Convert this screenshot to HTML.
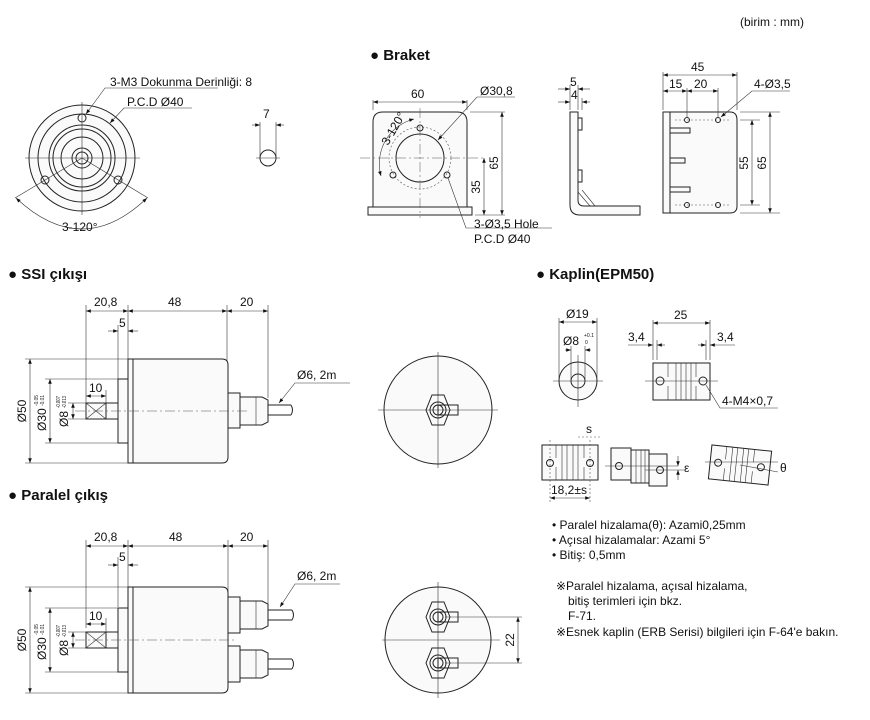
<!DOCTYPE html>
<html><head><meta charset="utf-8"><style>
html,body{margin:0;padding:0;background:#fff;width:870px;height:720px;overflow:hidden}
svg{display:block;font-family:"Liberation Sans",Arial,sans-serif}
.l{fill:none;stroke:#222;stroke-width:1}
.t{stroke:#333;stroke-width:.6;fill:none}
.c{stroke:#555;stroke-width:.5;fill:none;stroke-dasharray:10 3 2 3}
.d{stroke:#555;stroke-width:.6;fill:none;stroke-dasharray:2 2}
.b{fill:#fafafa;stroke:#222;stroke-width:1}
text{fill:#111;font-size:12px}
.h{font-size:15px;font-weight:bold}
.s{font-size:5px}
</style></head><body>
<svg width="870" height="720" viewBox="0 0 870 720">
<defs>
<marker id="a" viewBox="0 0 8 6" refX="8" refY="3" markerWidth="8" markerHeight="6" orient="auto-start-reverse"><path d="M0,0L8,3L0,6z" fill="#111"/></marker>
</defs>
<text x="740" y="26" font-size="12">(birim : mm)</text>
<text x="370" y="60" class="h">● Braket</text>
<text x="8" y="279" class="h">● SSI çıkışı</text>
<text x="8" y="500" class="h">● Paralel çıkış</text>
<text x="536" y="279" class="h">● Kaplin(EPM50)</text>

<!-- Top-left front view -->
<g>
<circle cx="82" cy="158" r="53" class="b"/>
<circle cx="82" cy="158" r="44" class="l"/>
<circle cx="82" cy="158" r="33" class="l"/>
<circle cx="82" cy="158" r="29" class="l"/>
<circle cx="82" cy="158" r="21" class="l"/>
<circle cx="82" cy="158" r="10" class="l"/>
<circle cx="82" cy="158" r="6" class="l"/>
<circle cx="82" cy="118" r="4" class="l" stroke-width="2"/>
<circle cx="45" cy="180" r="4" class="l" stroke-width="2"/>
<circle cx="118" cy="180" r="4" class="l" stroke-width="2"/>
<line x1="25" y1="158" x2="140" y2="158" class="t"/>
<line x1="82" y1="102" x2="82" y2="215" class="t"/>
<line x1="82" y1="158" x2="15" y2="198" class="t"/>
<line x1="82" y1="158" x2="148" y2="198" class="t"/>
<path d="M16,198 Q82,260 147,198" class="t" marker-start="url(#a)" marker-end="url(#a)"/>
<text x="62" y="231">3-120°</text>
<polyline points="218,88 105,88 86,114" class="t" marker-end="url(#a)"/>
<text x="110" y="86">3-M3 Dokunma Derinliği: 8</text>
<polyline points="192,108 124,108 110,123" class="t" marker-end="url(#a)"/>
<text x="127" y="106">P.C.D Ø40</text>
<circle cx="268" cy="158" r="8" class="l" stroke-width="1.3"/>
<line x1="256" y1="158" x2="280" y2="158" class="t"/>
<line x1="260" y1="122" x2="260" y2="158" class="t"/>
<line x1="276" y1="122" x2="276" y2="158" class="t"/>
<line x1="252" y1="125" x2="260" y2="125" class="t" marker-end="url(#a)"/>
<line x1="284" y1="125" x2="276" y2="125" class="t" marker-end="url(#a)"/>
<text x="263" y="118">7</text>
</g>

<!-- Braket front -->
<g>
<path d="M373,207 V122 Q373,112 383,112 H457 Q467,112 467,122 V207" class="b"/>
<rect x="368" y="207" width="104" height="8" class="b"/>
<circle cx="420" cy="158" r="31" class="d"/>
<circle cx="420" cy="158" r="24" class="l"/>
<circle cx="420" cy="128" r="3" class="l"/>
<circle cx="393" cy="175" r="3" class="l"/>
<circle cx="447" cy="175" r="3" class="l"/>
<line x1="360" y1="158" x2="485" y2="158" class="c"/>
<line x1="420" y1="108" x2="420" y2="218" class="c"/>
<path d="M414,119 A46,46 0 0 0 381,176" class="t" marker-start="url(#a)" marker-end="url(#a)"/>
<text x="0" y="0" font-size="11" transform="translate(388,146) rotate(-60)">3-120°</text>
<line x1="373" y1="100" x2="373" y2="110" class="t"/>
<line x1="467" y1="100" x2="467" y2="110" class="t"/>
<line x1="373" y1="102" x2="467" y2="102" class="t" marker-start="url(#a)" marker-end="url(#a)"/>
<text x="411" y="98">60</text>
<polyline points="515,97 477,97 438,140" class="t" marker-end="url(#a)"/>
<text x="480" y="95">Ø30,8</text>
<line x1="470" y1="112" x2="505" y2="112" class="t"/>
<line x1="475" y1="215" x2="505" y2="215" class="t"/>
<line x1="502" y1="112" x2="502" y2="215" class="t" marker-start="url(#a)" marker-end="url(#a)"/>
<line x1="484" y1="158" x2="484" y2="215" class="t" marker-start="url(#a)" marker-end="url(#a)"/>
<text text-anchor="middle" transform="translate(498,163) rotate(-90)">65</text>
<text text-anchor="middle" transform="translate(480,187) rotate(-90)">35</text>
<polyline points="448,178 466,228 552,228" class="t"/>
<text x="474" y="228">3-Ø3,5 Hole</text>
<text x="474" y="243">P.C.D Ø40</text>
</g>
<!-- Braket side -->
<g>
<path d="M570,112 H578 V200 Q578,206 584,206 H640 V215 H580 Q570,215 570,205 Z" class="b"/>
<rect x="578" y="118" width="4" height="12" class="l"/>
<rect x="578" y="170" width="4" height="12" class="l"/>
<line x1="578" y1="192" x2="590" y2="206" class="t"/>
<line x1="582" y1="190" x2="595" y2="206" class="t"/>
<line x1="570" y1="85" x2="570" y2="110" class="t"/>
<line x1="578" y1="85" x2="578" y2="110" class="t"/>
<line x1="582" y1="98" x2="582" y2="110" class="t"/>
<line x1="558" y1="89" x2="570" y2="89" class="t" marker-end="url(#a)"/>
<line x1="590" y1="89" x2="578" y2="89" class="t" marker-end="url(#a)"/>
<line x1="558" y1="102" x2="570" y2="102" class="t" marker-end="url(#a)"/>
<line x1="590" y1="102" x2="582" y2="102" class="t" marker-end="url(#a)"/>
<text x="570" y="86">5</text>
<text x="571" y="99">4</text>
</g>
<!-- Braket right -->
<g>
<path d="M663,112 H730 Q737,112 737,120 V206 Q737,213 730,213 H663 Z" class="b"/>
<line x1="670" y1="112" x2="670" y2="213" class="l"/>
<rect x="670" y="128" width="20" height="5" class="l"/><rect x="670" y="158" width="15" height="5" class="l"/><rect x="670" y="187" width="20" height="5" class="l"/>
<line x1="675" y1="120" x2="730" y2="120" class="d"/>
<line x1="675" y1="205" x2="730" y2="205" class="d"/>
<circle cx="687" cy="120" r="2.5" class="l"/><circle cx="718" cy="120" r="2.5" class="l"/>
<circle cx="687" cy="205" r="2.5" class="l"/><circle cx="718" cy="205" r="2.5" class="l"/>
<line x1="663" y1="72" x2="663" y2="110" class="t"/>
<line x1="737" y1="72" x2="737" y2="110" class="t"/>
<line x1="687" y1="88" x2="687" y2="118" class="t"/>
<line x1="718" y1="88" x2="718" y2="118" class="t"/>
<line x1="663" y1="75" x2="737" y2="75" class="t" marker-start="url(#a)" marker-end="url(#a)"/>
<text x="691" y="71">45</text>
<line x1="663" y1="91" x2="687" y2="91" class="t" marker-start="url(#a)" marker-end="url(#a)"/>
<line x1="687" y1="91" x2="718" y2="91" class="t" marker-start="url(#a)" marker-end="url(#a)"/>
<text x="669" y="88">15</text><text x="694" y="88">20</text>
<polyline points="790,91 752,91 721,117" class="t" marker-end="url(#a)"/>
<text x="754" y="88">4-Ø3,5</text>
<line x1="740" y1="120" x2="760" y2="120" class="t"/>
<line x1="740" y1="205" x2="760" y2="205" class="t"/>
<line x1="740" y1="112" x2="780" y2="112" class="t"/>
<line x1="740" y1="213" x2="780" y2="213" class="t"/>
<line x1="752" y1="120" x2="752" y2="205" class="t" marker-start="url(#a)" marker-end="url(#a)"/>
<line x1="770" y1="112" x2="770" y2="213" class="t" marker-start="url(#a)" marker-end="url(#a)"/>
<text text-anchor="middle" transform="translate(748,163) rotate(-90)">55</text>
<text text-anchor="middle" transform="translate(766,163) rotate(-90)">65</text>
</g>

<!-- SSI side -->
<g>
<line x1="86" y1="305" x2="86" y2="403" class="t"/>
<line x1="118" y1="325" x2="118" y2="379" class="t"/>
<line x1="128" y1="305" x2="128" y2="359" class="t"/>
<line x1="227" y1="305" x2="227" y2="365" class="t"/>
<line x1="268" y1="305" x2="268" y2="398" class="t"/>
<line x1="86" y1="311" x2="128" y2="311" class="t" marker-start="url(#a)" marker-end="url(#a)"/>
<line x1="128" y1="311" x2="227" y2="311" class="t" marker-start="url(#a)" marker-end="url(#a)"/>
<line x1="227" y1="311" x2="268" y2="311" class="t" marker-start="url(#a)" marker-end="url(#a)"/>
<text x="94" y="306">20,8</text><text x="168" y="306">48</text><text x="240" y="306">20</text>
<line x1="108" y1="331" x2="118" y2="331" class="t" marker-end="url(#a)"/>
<line x1="138" y1="331" x2="128" y2="331" class="t" marker-end="url(#a)"/>
<text x="119" y="327">5</text>
<path d="M128,359 H222 Q228,359 228,365 V457 Q228,463 222,463 H128 Z" class="b"/>
<line x1="133" y1="359" x2="133" y2="463" class="l"/>
<rect x="118" y="379" width="10" height="64" class="b"/>
<rect x="86" y="403" width="32" height="16" class="b"/>
<rect x="86" y="403" width="20" height="16" class="l"/>
<path d="M86,403 L106,419 M106,403 L86,419" class="t"/>
<rect x="228" y="393" width="12" height="35" class="b"/>
<path d="M240,397 H262 L268,400 V422 L262,425 H240 Z" class="b"/>
<line x1="256" y1="397" x2="256" y2="425" class="t"/>
<path d="M268,405 H291 M268,415 H291 M291,405 Q294,410 291,415" class="l"/>
<line x1="75" y1="411" x2="250" y2="411" class="c"/>
<line x1="25" y1="359" x2="128" y2="359" class="t"/>
<line x1="25" y1="463" x2="128" y2="463" class="t"/>
<line x1="45" y1="379" x2="118" y2="379" class="t"/>
<line x1="45" y1="443" x2="118" y2="443" class="t"/>
<line x1="68" y1="403" x2="86" y2="403" class="t"/>
<line x1="68" y1="419" x2="86" y2="419" class="t"/>
<line x1="30" y1="359" x2="30" y2="463" class="t" marker-start="url(#a)" marker-end="url(#a)"/>
<line x1="50" y1="379" x2="50" y2="443" class="t" marker-start="url(#a)" marker-end="url(#a)"/>
<line x1="73" y1="403" x2="73" y2="419" class="t" marker-start="url(#a)" marker-end="url(#a)"/>
<g transform="translate(26,411) rotate(-90)"><text text-anchor="middle" font-size="13">Ø50</text></g>
<g transform="translate(46,411) rotate(-90)"><text x="-20" font-size="13">Ø30</text><text x="5" y="-8" class="s" textLength="11" lengthAdjust="spacingAndGlyphs">-0.05</text><text x="5" y="-2" class="s" textLength="11" lengthAdjust="spacingAndGlyphs">-0.01</text></g>
<g transform="translate(68,411) rotate(-90)"><text x="-16" font-size="13">Ø8</text><text x="3" y="-8" class="s" textLength="12" lengthAdjust="spacingAndGlyphs">-0.007</text><text x="3" y="-2" class="s" textLength="12" lengthAdjust="spacingAndGlyphs">-0.013</text></g>
<line x1="86" y1="396" x2="106" y2="396" class="t" marker-start="url(#a)" marker-end="url(#a)"/>
<line x1="106" y1="390" x2="106" y2="403" class="t"/>
<text x="89" y="392">10</text>
<polyline points="350,383 295,383 279,403" class="t" marker-end="url(#a)"/>
<text x="297" y="379">Ø6, 2m</text>
</g>
<!-- SSI rear -->
<g>
<circle cx="438" cy="410" r="54" class="b"/>
<line x1="378" y1="410" x2="498" y2="410" class="t"/>
<line x1="438" y1="352" x2="438" y2="468" class="t"/>
<polygon points="432,395 444,395 450,410 444,425 432,425 426,410" class="l"/>
<circle cx="438" cy="410" r="8" class="l"/><circle cx="438" cy="410" r="5" class="l"/>
<rect x="438" y="405" width="20" height="10" class="l"/>
</g>

<!-- Parallel side -->
<g>
<line x1="86" y1="540" x2="86" y2="628" class="t"/>
<line x1="118" y1="557" x2="118" y2="607" class="t"/>
<line x1="128" y1="540" x2="128" y2="587" class="t"/>
<line x1="228" y1="540" x2="228" y2="592" class="t"/>
<line x1="268" y1="540" x2="268" y2="605" class="t"/>
<line x1="86" y1="546" x2="128" y2="546" class="t" marker-start="url(#a)" marker-end="url(#a)"/>
<line x1="128" y1="546" x2="228" y2="546" class="t" marker-start="url(#a)" marker-end="url(#a)"/>
<line x1="228" y1="546" x2="268" y2="546" class="t" marker-start="url(#a)" marker-end="url(#a)"/>
<text x="94" y="541">20,8</text><text x="169" y="541">48</text><text x="240" y="541">20</text>
<line x1="108" y1="565" x2="118" y2="565" class="t" marker-end="url(#a)"/>
<line x1="138" y1="565" x2="128" y2="565" class="t" marker-end="url(#a)"/>
<text x="119" y="561">5</text>
<path d="M128,587 H222 Q228,587 228,593 V687 Q228,693 222,693 H128 Z" class="b"/>
<line x1="133" y1="587" x2="133" y2="693" class="l"/>
<rect x="118" y="608" width="10" height="64" class="b"/>
<rect x="86" y="632" width="32" height="16" class="b"/>
<rect x="86" y="632" width="20" height="16" class="l"/>
<path d="M86,632 L106,648 M106,632 L86,648" class="t"/>
<rect x="228" y="597" width="12" height="36" class="b"/>
<path d="M240,601 H262 L268,604 V626 L262,629 H240 Z" class="b"/>
<line x1="256" y1="601" x2="256" y2="629" class="t"/>
<path d="M268,610 H292 M268,620 H292 M292,610 Q295,615 292,620" class="l"/>
<rect x="228" y="646" width="12" height="36" class="b"/>
<path d="M240,650 H262 L268,653 V675 L262,678 H240 Z" class="b"/>
<line x1="256" y1="650" x2="256" y2="678" class="t"/>
<path d="M268,659 H292 M268,669 H292 M292,659 Q295,664 292,669" class="l"/>
<line x1="75" y1="640" x2="236" y2="640" class="c"/>
<line x1="25" y1="587" x2="128" y2="587" class="t"/>
<line x1="25" y1="693" x2="128" y2="693" class="t"/>
<line x1="45" y1="608" x2="118" y2="608" class="t"/>
<line x1="45" y1="672" x2="118" y2="672" class="t"/>
<line x1="68" y1="632" x2="86" y2="632" class="t"/>
<line x1="68" y1="648" x2="86" y2="648" class="t"/>
<line x1="30" y1="587" x2="30" y2="693" class="t" marker-start="url(#a)" marker-end="url(#a)"/>
<line x1="50" y1="608" x2="50" y2="672" class="t" marker-start="url(#a)" marker-end="url(#a)"/>
<line x1="73" y1="632" x2="73" y2="648" class="t" marker-start="url(#a)" marker-end="url(#a)"/>
<g transform="translate(26,640) rotate(-90)"><text text-anchor="middle" font-size="13">Ø50</text></g>
<g transform="translate(46,640) rotate(-90)"><text x="-20" font-size="13">Ø30</text><text x="5" y="-8" class="s" textLength="11" lengthAdjust="spacingAndGlyphs">-0.05</text><text x="5" y="-2" class="s" textLength="11" lengthAdjust="spacingAndGlyphs">-0.01</text></g>
<g transform="translate(68,640) rotate(-90)"><text x="-16" font-size="13">Ø8</text><text x="3" y="-8" class="s" textLength="12" lengthAdjust="spacingAndGlyphs">-0.007</text><text x="3" y="-2" class="s" textLength="12" lengthAdjust="spacingAndGlyphs">-0.013</text></g>
<line x1="86" y1="624" x2="106" y2="624" class="t" marker-start="url(#a)" marker-end="url(#a)"/>
<line x1="106" y1="618" x2="106" y2="632" class="t"/>
<text x="89" y="620">10</text>
<polyline points="340,584 295,584 280,607" class="t" marker-end="url(#a)"/>
<text x="297" y="580">Ø6, 2m</text>
</g>
<!-- Parallel rear -->
<g>
<circle cx="438" cy="640" r="53" class="b"/>
<line x1="382" y1="640" x2="500" y2="640" class="t"/>
<line x1="438" y1="582" x2="438" y2="698" class="t"/>
<polygon points="432,602 444,602 450,617 444,632 432,632 426,617" class="l"/>
<circle cx="438" cy="617" r="8" class="l"/><circle cx="438" cy="617" r="5" class="l"/>
<rect x="438" y="612" width="20" height="10" class="l"/>
<polygon points="432,648 444,648 450,663 444,678 432,678 426,663" class="l"/>
<circle cx="438" cy="663" r="8" class="l"/><circle cx="438" cy="663" r="5" class="l"/>
<rect x="438" y="658" width="20" height="10" class="l"/>
<line x1="445" y1="617" x2="522" y2="617" class="t"/>
<line x1="445" y1="663" x2="522" y2="663" class="t"/>
<line x1="518" y1="617" x2="518" y2="663" class="t" marker-start="url(#a)" marker-end="url(#a)"/>
<text text-anchor="middle" transform="translate(514,640) rotate(-90)">22</text>
</g>

<!-- Kaplin -->
<g>
<circle cx="578" cy="381" r="19" class="b"/>
<circle cx="578" cy="381" r="7" class="l"/>
<line x1="553" y1="381" x2="603" y2="381" class="t"/>
<line x1="578" y1="355" x2="578" y2="407" class="t"/>
<line x1="559" y1="318" x2="559" y2="381" class="t"/>
<line x1="597" y1="318" x2="597" y2="381" class="t"/>
<line x1="571" y1="346" x2="571" y2="381" class="t"/>
<line x1="585" y1="346" x2="585" y2="381" class="t"/>
<line x1="559" y1="322" x2="597" y2="322" class="t" marker-start="url(#a)" marker-end="url(#a)"/>
<text x="566" y="318">Ø19</text>
<line x1="565" y1="350" x2="571" y2="350" class="t" marker-end="url(#a)"/>
<line x1="591" y1="350" x2="585" y2="350" class="t" marker-end="url(#a)"/>
<text x="563" y="345">Ø8</text><text x="584" y="337" class="s">+0.1</text><text x="585" y="344" class="s">0</text>
<rect x="653" y="363" width="57" height="37" class="b"/>
<path d="M668,363 V377 M668,386 V400 M676,363 V400 M681,363 V400 M686,363 V400 M691,363 V400 M696,363 V377 M696,386 V400" class="t"/>
<circle cx="660" cy="381" r="4" class="l"/><circle cx="703" cy="381" r="4" class="l"/>
<line x1="645" y1="381" x2="718" y2="381" class="t"/>
<line x1="653" y1="320" x2="653" y2="360" class="t"/><line x1="710" y1="320" x2="710" y2="360" class="t"/>
<line x1="657" y1="340" x2="657" y2="360" class="t"/><line x1="706" y1="340" x2="706" y2="360" class="t"/>
<line x1="653" y1="323" x2="710" y2="323" class="t" marker-start="url(#a)" marker-end="url(#a)"/>
<text x="674" y="319">25</text>
<line x1="628" y1="345" x2="653" y2="345" class="t" marker-end="url(#a)"/>
<line x1="665" y1="345" x2="657" y2="345" class="t" marker-end="url(#a)"/>
<line x1="698" y1="345" x2="706" y2="345" class="t" marker-end="url(#a)"/>
<line x1="735" y1="345" x2="710" y2="345" class="t" marker-end="url(#a)"/>
<text x="628" y="341">3,4</text><text x="717" y="341">3,4</text>
<polyline points="706,385 720,408 778,408" class="t"/>
<text x="722" y="405">4-M4×0,7</text>

<rect x="542" y="445" width="56" height="35" class="b"/>
<path d="M556,445 V458 M556,467 V480 M562,445 V480 M567,445 V480 M573,445 V480 M578,445 V480 M584,445 V458 M584,467 V480" class="t"/>
<circle cx="550" cy="463" r="3.5" class="l"/><circle cx="590" cy="463" r="3.5" class="l"/>
<line x1="550" y1="440" x2="550" y2="502" class="d"/><line x1="590" y1="440" x2="590" y2="502" class="d"/>
<line x1="578" y1="437" x2="600" y2="437" class="d"/>
<text x="586" y="433">s</text>
<line x1="550" y1="498" x2="590" y2="498" class="t" marker-start="url(#a)" marker-end="url(#a)"/>
<text x="551" y="494">18,2±s</text>

<rect x="611" y="448" width="20" height="32" class="b"/>
<rect x="631" y="450" width="18" height="33" class="b"/>
<rect x="649" y="454" width="18" height="32" class="b"/>
<path d="M636,450 V483 M641,450 V483 M645,450 V483" class="t"/>
<circle cx="619" cy="466" r="3.5" class="l"/><circle cx="660" cy="470" r="3.5" class="l"/>
<line x1="605" y1="466" x2="678" y2="466" class="t"/><line x1="645" y1="470" x2="684" y2="470" class="t"/>
<line x1="678" y1="456" x2="678" y2="466" class="t" marker-end="url(#a)"/>
<line x1="678" y1="480" x2="678" y2="470" class="t" marker-end="url(#a)"/>
<text x="684" y="472">ε</text>

<g transform="rotate(6 740 465)">
<rect x="710" y="448" width="60" height="34" class="b"/>
<path d="M725,448 V461 M725,470 V482 M731,448 V482 M736,448 V482 M742,448 V482 M747,448 V482 M753,448 V461 M753,470 V482" class="t"/>
<circle cx="718" cy="465" r="3.5" class="l"/><circle cx="761" cy="465" r="3.5" class="l"/>
</g>
<line x1="705" y1="462" x2="778" y2="462" class="t"/>
<line x1="740" y1="465" x2="778" y2="472" class="t"/>
<text x="780" y="472">θ</text>

<text x="552" y="529" font-size="12">• Paralel hizalama(θ): Azami0,25mm</text>
<text x="552" y="544" font-size="12">• Açısal hizalamalar: Azami 5°</text>
<text x="552" y="559" font-size="12">• Bitiş: 0,5mm</text>
<text x="556" y="590" font-size="12">※Paralel hizalama, açısal hizalama,</text>
<text x="568" y="605" font-size="12">bitiş terimleri için bkz.</text>
<text x="568" y="620" font-size="12">F-71.</text>
<text x="556" y="636" font-size="12">※Esnek kaplin (ERB Serisi) bilgileri için F-64'e bakın.</text>
</g>
</svg>
</body></html>
